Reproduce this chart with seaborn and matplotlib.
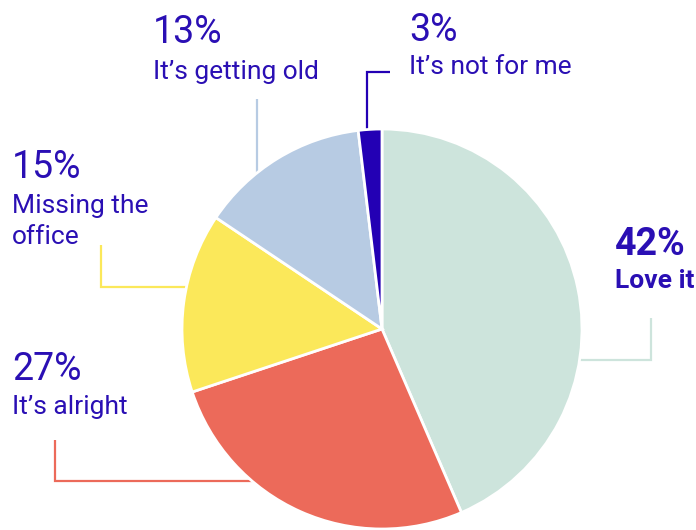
import matplotlib
matplotlib.use("Agg")
import matplotlib.pyplot as plt
import seaborn as sns

# ---- data ----
categories = ["Love it", "It\u2019s alright", "Missing the\noffice", "It\u2019s getting old", "It\u2019s not for me"]
shares = [43.5, 26.4, 14.5, 13.7, 1.9]          # slice sizes as drawn
pct_labels = ["42%", "27%", "15%", "13%", "3%"]
colors = ["#cde4dc", "#ec6a5a", "#fbe85a", "#b7cbe3", "#2300b4"]

TXT = "#2a0fb4"

sns.set_theme(style="white")
plt.rcParams["font.family"] = ["Roboto", "DejaVu Sans"]

W, H = 696, 530
fig = plt.figure(figsize=(W / 100, H / 100), dpi=100)
ax = fig.add_axes([0, 0, 1, 1])

cx, cy, r = 382, H - 329, 200
ax.pie(shares, colors=colors, startangle=90, counterclock=False,
       center=(cx, cy), radius=r, frame=True,
       wedgeprops=dict(edgecolor="white", linewidth=2, zorder=3))
ax.set_xlim(0, W)
ax.set_ylim(0, H)
ax.set_aspect("auto")
ax.axis("off")


def Y(p):
    return H - p


# leader lines (pixel layout, drawn under the pie)
lw = 1.6
leaders = [
    ([651, 651, 560], [318, 360, 360], colors[0]),
    ([55, 55, 260], [440, 481, 481], colors[1]),
    ([101, 101, 200], [245, 287, 287], colors[2]),
    ([257, 257], [99, 200], colors[3]),
    ([390, 367, 367], [72, 72, 150], colors[4]),
]
for xs, ys, c in leaders:
    ax.plot(xs, [Y(v) for v in ys], color=c, lw=lw, zorder=1,
            solid_joinstyle="miter", solid_capstyle="butt")

# labels: (x, pct baseline, label baseline, bold)
label_pos = [
    (615, 255, 288, True),
    (12, 380, 414, False),
    (12, 178, 213, False),
    (153, 43, 79, False),
    (409, 41, 74, False),
]
for (x, yp, yl, bold), pct, cat in zip(label_pos, pct_labels, categories):
    w = "bold" if bold else "normal"
    ax.text(x, Y(yp), pct, fontsize=27, color=TXT, fontweight=w,
            ha="left", va="baseline")
    for i, part in enumerate(cat.split("\n")):
        ax.text(x, Y(yl + i * 31), part, fontsize=19, color=TXT,
                fontweight=w, ha="left", va="baseline")

fig.savefig("out.png", dpi=100, facecolor="white")
